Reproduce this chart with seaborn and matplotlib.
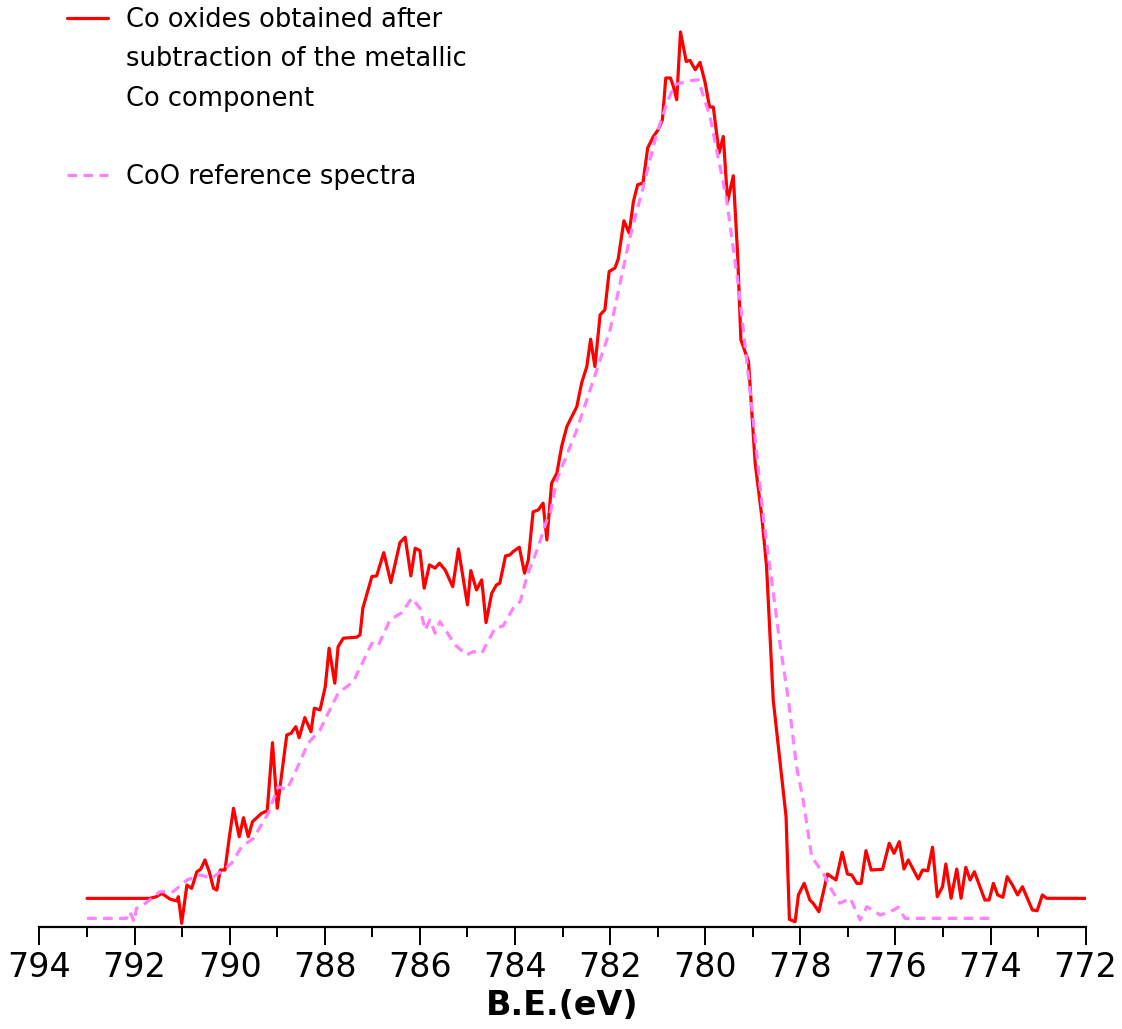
import numpy as np
import pandas as pd
import seaborn as sns
import matplotlib
matplotlib.use("Agg")
import matplotlib.pyplot as plt
from matplotlib.lines import Line2D

# Co 2p3/2 region: oxide component after removing the metallic Co contribution
oxide_be = [793.0, 791.68, 791.54, 791.43, 791.26, 791.11, 791.08, 791.01, 790.90, 790.80,
            790.69, 790.61, 790.52, 790.43, 790.34, 790.27, 790.20, 790.10, 790.01, 789.92,
            789.80, 789.71, 789.61, 789.52, 789.33, 789.21, 789.10, 789.00, 788.80, 788.71,
            788.61, 788.54, 788.42, 788.29, 788.22, 788.10, 787.99, 787.91, 787.79, 787.72,
            787.61, 787.33, 787.26, 787.20, 787.01, 786.91, 786.76, 786.61, 786.42, 786.31,
            786.19, 786.10, 786.00, 785.91, 785.80, 785.68, 785.59, 785.47, 785.31, 785.19,
            785.00, 784.93, 784.81, 784.70, 784.61, 784.49, 784.39, 784.32, 784.20, 784.11,
            784.04, 783.91, 783.80, 783.72, 783.62, 783.51, 783.41, 783.33, 783.23, 783.12,
            783.02, 782.91, 782.70, 782.60, 782.49, 782.41, 782.32, 782.21, 782.11, 782.02,
            781.90, 781.83, 781.71, 781.60, 781.51, 781.42, 781.31, 781.21, 781.09, 780.99,
            780.90, 780.83, 780.73, 780.67, 780.60, 780.52, 780.40, 780.32, 780.21, 780.11,
            780.00, 779.91, 779.83, 779.71, 779.62, 779.53, 779.41, 779.32, 779.25, 779.09,
            778.95, 778.81, 778.71, 778.64, 778.57, 778.30, 778.23, 778.11, 778.04, 777.92,
            777.80, 777.73, 777.61, 777.43, 777.25, 777.12, 777.01, 776.92, 776.81, 776.72,
            776.62, 776.51, 776.27, 776.13, 776.03, 775.92, 775.82, 775.73, 775.52, 775.43,
            775.32, 775.22, 775.12, 775.01, 774.94, 774.83, 774.71, 774.62, 774.52, 774.43,
            774.34, 774.12, 774.03, 773.94, 773.85, 773.74, 773.65, 773.54, 773.43, 773.33,
            773.24, 773.12, 773.02, 772.91, 772.82, 772.0]
oxide_int = [3.2, 3.2, 3.39, 3.77, 3.13, 2.91, 3.39, 0.41, 4.69, 4.32,
             6.18, 6.45, 7.49, 6.18, 4.32, 4.13, 6.37, 6.37, 9.94, 13.26,
             10.09, 12.21, 10.09, 11.77, 12.70, 12.99, 20.59, 13.26, 21.45, 21.64,
             22.38, 21.15, 23.39, 21.82, 24.44, 24.25, 26.85, 31.14, 27.23, 31.32,
             32.26, 32.37, 32.63, 35.61, 39.14, 39.22, 41.82, 38.47, 42.94, 43.54,
             39.22, 42.31, 42.04, 37.84, 40.45, 40.08, 40.64, 39.89, 38.02, 42.23,
             35.98, 39.81, 37.65, 38.77, 34.00, 37.28, 38.21, 38.40, 41.45, 41.56,
             41.93, 42.42, 39.52, 41.01, 46.37, 46.59, 47.34, 43.24, 49.58, 50.69,
             53.66, 55.90, 58.13, 60.75, 62.60, 65.66, 62.60, 68.38, 68.94, 73.22,
             73.60, 74.60, 78.88, 77.51, 81.04, 82.91, 83.09, 87.01, 88.30, 89.05,
             90.17, 94.83, 94.83, 93.89, 92.40, 99.97, 96.68, 96.79, 95.75, 96.57,
             94.27, 91.59, 91.59, 86.45, 88.30, 81.04, 83.91, 75.27, 65.59, 63.16,
             51.81, 45.84, 40.26, 32.82, 25.36, 12.32, 0.86, 0.59, 3.58, 4.88,
             3.02, 2.65, 1.71, 5.92, 5.25, 8.35, 5.92, 5.81, 4.88, 4.88,
             8.53, 6.37, 6.45, 9.35, 8.23, 9.53, 6.48, 7.49, 5.36, 6.37,
             6.29, 8.91, 3.39, 4.50, 7.04, 3.21, 6.48, 3.21, 6.67, 5.25,
             6.18, 3.02, 3.02, 4.88, 3.58, 3.32, 5.62, 4.69, 3.58, 4.50,
             3.39, 1.90, 1.82, 3.58, 3.21, 3.2]

# CoO reference spectrum
coo_be = [793.0, 792.17, 792.10, 792.01, 791.96, 791.82, 791.68, 791.47, 791.19, 790.90,
          790.62, 790.38, 790.14, 789.96, 789.75, 789.50, 789.19, 788.98, 788.80, 788.63,
          788.35, 788.10, 787.93, 787.72, 787.40, 787.01, 786.88, 786.63, 786.38, 786.17,
          786.00, 785.89, 785.79, 785.68, 785.58, 785.44, 785.26, 785.02, 784.88, 784.70,
          784.42, 784.25, 784.00, 783.89, 783.75, 783.51, 783.33, 783.26, 783.12, 782.70,
          782.28, 782.00, 781.58, 781.30, 781.02, 780.78, 780.64, 780.39, 780.15, 779.90,
          779.55, 779.30, 778.99, 778.78, 778.64, 778.43, 778.25, 778.08, 777.94, 777.76,
          777.52, 777.34, 777.17, 776.95, 776.74, 776.60, 776.32, 776.11, 775.94, 775.80,
          774.0]
coo_int = [0.97, 0.97, 1.71, 0.59, 2.09, 2.46, 3.02, 3.94, 3.94, 5.25,
           5.81, 5.44, 6.37, 7.12, 8.97, 9.91, 12.70, 15.68, 15.31, 17.17,
           20.53, 22.01, 23.88, 26.11, 27.41, 31.70, 31.40, 34.30, 35.12, 36.73,
           35.61, 33.18, 34.30, 32.82, 34.11, 32.99, 31.51, 30.39, 30.76, 30.58,
           33.37, 33.63, 35.98, 36.35, 39.14, 42.49, 45.47, 46.22, 49.94, 55.53,
           62.23, 66.70, 77.13, 82.72, 88.68, 92.40, 94.08, 94.45, 94.64, 90.54,
           81.23, 71.54, 56.65, 45.84, 40.26, 31.70, 25.36, 17.91, 14.19, 7.85,
           6.00, 4.13, 2.65, 3.21, 0.78, 2.27, 1.34, 1.71, 2.20, 0.97,
           0.97]

tick_values = list(range(794, 771, -2))
oxide_label = "Co oxides obtained after\nsubtraction of the metallic\nCo component"
coo_label = "CoO reference spectra"
x_label = "B.E.(eV)"

RED = "#ff0000"
PINK = "#ff80ff"

sns.set_theme(style="white")
plt.rcParams["font.family"] = ["DejaVu Sans"]
plt.rcParams["text.color"] = "black"
plt.rcParams["axes.labelcolor"] = "black"
plt.rcParams["xtick.color"] = "black"

fig = plt.figure(figsize=(11.22, 10.29), dpi=100)
ax = fig.add_axes([0.0352, 0.0991, 0.9324, 0.8814])

oxide_df = pd.DataFrame({"be": oxide_be, "intensity": oxide_int})
coo_df = pd.DataFrame({"be": coo_be, "intensity": coo_int})

sns.lineplot(data=oxide_df, x="be", y="intensity", ax=ax, color=RED,
             linewidth=2.3, estimator=None, sort=False)
sns.lineplot(data=coo_df, x="be", y="intensity", ax=ax, color=PINK,
             linewidth=2.3, estimator=None, sort=False, linestyle=(0, (3, 2)))

ax.set_xlim(794, 772)
ax.set_ylim(0, 101.3)

for side in ("left", "right", "top"):
    ax.spines[side].set_visible(False)
ax.spines["bottom"].set_color("black")
ax.spines["bottom"].set_linewidth(1.6)

ax.set_yticks([])
ax.set_ylabel("")
ax.set_xticks(tick_values)
ax.set_xticklabels([str(t) for t in tick_values])
ax.set_xticks(np.arange(793, 772, -2), minor=True)
ax.tick_params(axis="x", which="major", direction="out", length=13, width=1.4,
               color="black", labelcolor="black", labelsize=24, pad=4, bottom=True)
ax.tick_params(axis="x", which="minor", direction="out", length=7, width=1.4,
               color="black", bottom=True)
ax.set_xlabel(x_label, fontsize=24, fontweight="bold", labelpad=4, color="black")

# legend: the oxide label spans three lines, followed by a blank line
blank = Line2D([], [], color="none")
handles = [Line2D([], [], color=RED, linewidth=2.3), blank, blank, blank,
           Line2D([], [], color=PINK, linewidth=2.3, linestyle=(0, (3, 2)))]
labels = oxide_label.split("\n") + [" ", coo_label]
leg = ax.legend(handles, labels, loc="upper left", bbox_to_anchor=(0.026, 1.0145),
                frameon=False, fontsize=18.5, handlelength=1.6, handletextpad=0.7,
                labelspacing=0.52, borderpad=0, borderaxespad=0)
for txt in leg.get_texts():
    txt.set_color("black")

fig.savefig("out.png", dpi=100)
